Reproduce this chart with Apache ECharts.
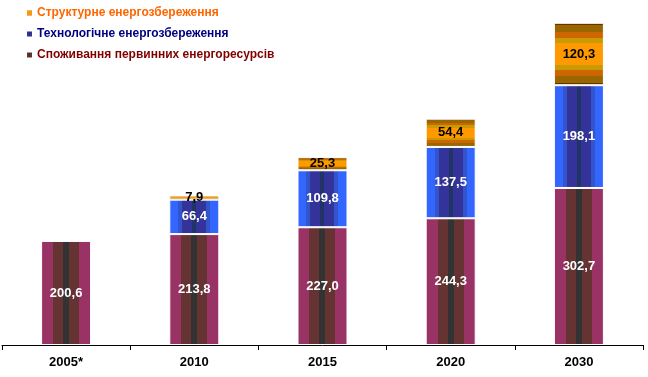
<!DOCTYPE html>
<html>
<head>
<meta charset="utf-8">
<script src="https://cdn.jsdelivr.net/npm/echarts@6/dist/echarts.min.js"></script>
<style>
  html, body { margin: 0; padding: 0; background: #fff; }
  #chart { width: 648px; height: 377px; }
</style>
</head>
<body>
<div id="chart"></div>
<script>
const years = ['2005*', '2010', '2015', '2020', '2030'];
const consumption = [200.6, 213.8, 227.0, 244.3, 302.7];
const techSaving = [null, 66.4, 109.8, 137.5, 198.1];
const structSaving = [null, 7.9, 25.3, 54.4, 120.3];

const seriesNames = [
  'Споживання первинних енергоресурсів',
  'Технологічне енергозбереження',
  'Структурне енергозбереження'
];

// cylinder-like vertical bands
const bands = (stops) => ({
  type: 'linear', x: 0, y: 0, x2: 1, y2: 0,
  colorStops: stops.flatMap(([a, b, c]) => [{ offset: a, color: c }, { offset: b, color: c }])
});

const purpleFill = bands([
  [0, 0.24, '#993366'], [0.24, 0.44, '#663333'], [0.44, 0.56, '#333333'],
  [0.56, 0.76, '#663333'], [0.76, 1, '#993366']
]);
const blueFill = bands([
  [0, 0.18, '#3366ff'], [0.18, 0.26, '#3355cc'], [0.26, 0.46, '#333399'],
  [0.46, 0.54, '#223366'], [0.54, 0.74, '#333399'], [0.74, 0.82, '#3355cc'], [0.82, 1, '#3366ff']
]);
// horizontal stripes for the top block
const orangeFill = {
  type: 'linear', x: 0, y: 0, x2: 0, y2: 1,
  colorStops: [
    [0, 0.04, '#663300'], [0.04, 0.14, '#996600'], [0.14, 0.24, '#cc6600'],
    [0.24, 0.32, '#cc9900'], [0.32, 0.68, '#ff9900'], [0.68, 0.76, '#cc9900'],
    [0.76, 0.86, '#cc6600'], [0.86, 0.96, '#996600'], [0.96, 1, '#663300']
  ].flatMap(([a, b, c]) => [{ offset: a, color: c }, { offset: b, color: c }])
};

const fmt = p => p.value == null ? '' : p.value.toFixed(1).replace('.', ',');
const lbl = color => ({ show: true, position: 'inside', color, fontWeight: 'bold', fontSize: 13, formatter: fmt });

const chart = echarts.init(document.getElementById('chart'));

chart.setOption({
  animation: false,
  backgroundColor: '#fff',
  textStyle: { fontFamily: 'Liberation Sans, Arial, sans-serif' },
  legend: {
    orient: 'vertical',
    left: 20,
    top: 2,
    itemWidth: 7,
    itemHeight: 7,
    itemGap: 9,
    icon: 'rect',
    data: [
      { name: seriesNames[2], textStyle: { color: '#ff6600' } },
      { name: seriesNames[1], textStyle: { color: '#000080' } },
      { name: seriesNames[0], textStyle: { color: '#800000' } }
    ],
    textStyle: { fontSize: 12, fontWeight: 'bold', padding: [0, 0, 0, -1] }
  },
  grid: { left: 2, right: 5, top: 13, bottom: 32 },
  xAxis: {
    type: 'category',
    data: years,
    axisLine: { lineStyle: { color: '#000', width: 1 } },
    axisTick: { show: true, length: 5, lineStyle: { color: '#000', width: 1 } },
    axisLabel: { color: '#000', fontWeight: 'bold', fontSize: 13, margin: 11 }
  },
  yAxis: {
    type: 'value',
    min: 0,
    max: 640,
    show: false,
    splitLine: { show: false }
  },
  series: [
    {
      name: seriesNames[0], type: 'bar', stack: 'total', barWidth: 50,
      data: consumption,
      itemStyle: { color: purpleFill, borderColor: '#fff', borderWidth: 1 },
      label: lbl('#fff')
    },
    {
      name: seriesNames[1], type: 'bar', stack: 'total', barWidth: 50,
      data: techSaving,
      itemStyle: { color: blueFill, borderColor: '#fff', borderWidth: 1 },
      label: lbl('#fff')
    },
    {
      name: seriesNames[2], type: 'bar', stack: 'total', barWidth: 50,
      data: structSaving,
      itemStyle: { color: orangeFill, borderColor: '#fff', borderWidth: 1 },
      label: lbl('#000')
    }
  ]
});
</script>
</body>
</html>
